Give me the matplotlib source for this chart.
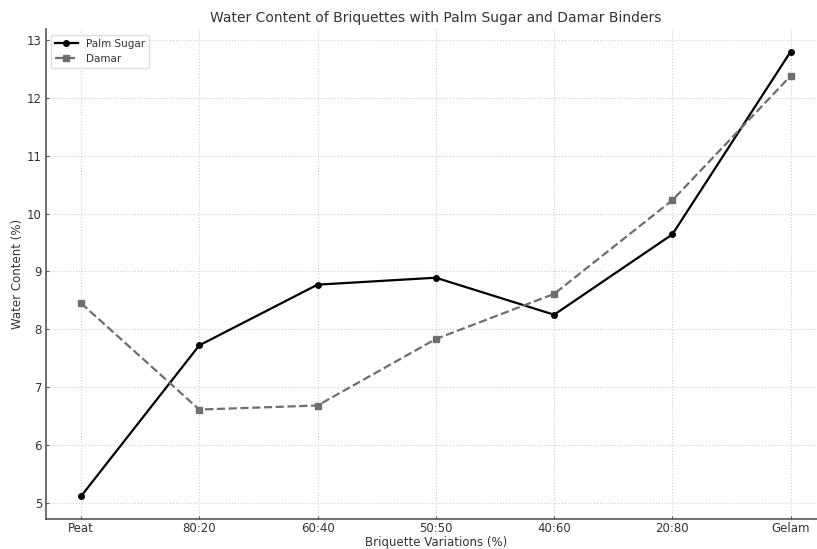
import matplotlib
matplotlib.use("Agg")
import matplotlib.pyplot as plt

variations = ["Peat", "80:20", "60:40", "50:50", "40:60", "20:80", "Gelam"]
palm_sugar = [5.11, 7.72, 8.77, 8.89, 8.25, 9.64, 12.80]
damar = [8.45, 6.61, 6.68, 7.83, 8.61, 10.23, 12.38]

plt.rcParams["font.family"] = "DejaVu Sans"
plt.rcParams["text.color"] = "#333333"
plt.rcParams["axes.labelcolor"] = "#333333"
plt.rcParams["xtick.color"] = "#333333"
plt.rcParams["ytick.color"] = "#333333"

fig = plt.figure(figsize=(8.17, 5.49), dpi=100)
ax = fig.add_axes([0.0557, 0.0555, 0.9555, 0.891])

ax.plot(variations, palm_sugar, color="black", marker="o", markersize=4,
        linewidth=1.6, label="Palm Sugar")
ax.plot(variations, damar, color="#6e6e6e", marker="s", markersize=4,
        linewidth=1.6, linestyle="--", label="Damar")

ax.set_title("Water Content of Briquettes with Palm Sugar and Damar Binders",
             fontsize=10, color="#333333", pad=5)
ax.set_xlabel("Briquette Variations (%)", fontsize=8.5, labelpad=1)
ax.set_ylabel("Water Content (%)", fontsize=8.5, labelpad=2)
ax.tick_params(direction="in", labelsize=8.5, length=2, pad=2.5, color="#555555")
ax.grid(True, linestyle=":", color="#cccccc", linewidth=0.8)

for side in ("top", "right"):
    ax.spines[side].set_visible(False)
for side in ("left", "bottom"):
    ax.spines[side].set_color("#555555")
    ax.spines[side].set_linewidth(1.2)

ax.legend(loc="upper left", fontsize=7.5, frameon=True, framealpha=1,
          edgecolor="#dddddd", handlelength=2.2, borderaxespad=0.5)

fig.savefig("out.png", dpi=100)
